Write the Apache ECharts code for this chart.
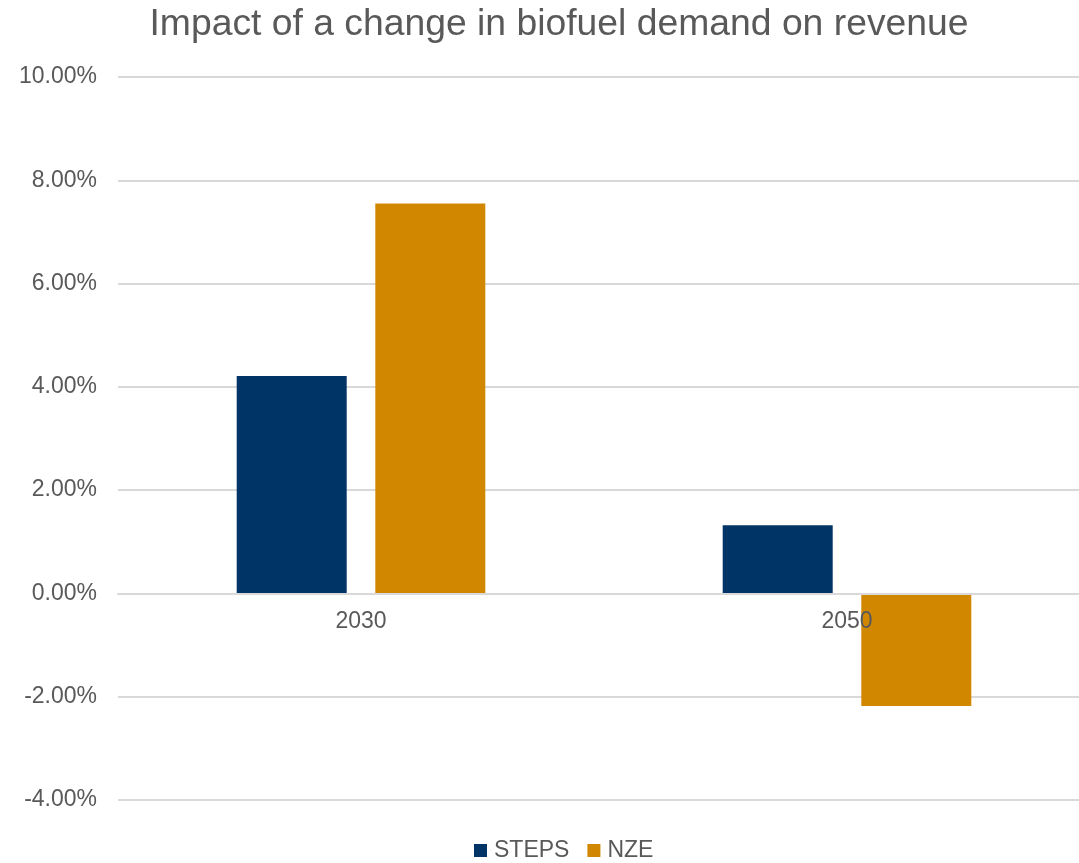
<!DOCTYPE html>
<html>
<head>
<meta charset="utf-8">
<script src="https://cdn.jsdelivr.net/npm/echarts@6/dist/echarts.min.js"></script>
<style>
  html, body { margin: 0; padding: 0; background: #fff; overflow: hidden; }
  #main { width: 1079px; height: 863px; }
</style>
</head>
<body>
<div id="main"></div>
<script>
var years = ['2030', '2050'];
var steps = [4.21, 1.32];
var nze = [7.55, -2.18];
var yTicks = { min: -4, max: 10, step: 2 };

var chart = echarts.init(document.getElementById('main'));
var font = 'Liberation Sans, Arial, sans-serif';

// plot box (runs past the right edge, like the original)
var gTop = 77, gBottom = 63, gLeft = 118, gWidth = 972;
var plotH = 863 - gTop - gBottom;
// lift the category axis up to the 0% line
var zeroOffset = -plotH * (0 - yTicks.min) / (yTicks.max - yTicks.min);

var option = {
  backgroundColor: '#ffffff',
  title: {
    text: 'Impact of a change in biofuel demand on revenue',
    left: 554,
    textAlign: 'center',
    top: 1,
    textStyle: { fontFamily: font, fontSize: 37.3, fontWeight: 'normal', color: '#595959' }
  },
  legend: {
    bottom: -4,
    left: 469,
    itemWidth: 13,
    itemHeight: 13,
    itemGap: 18,
    icon: 'rect',
    textStyle: { fontFamily: font, fontSize: 23, color: '#595959', padding: [0, 0, 0, 2] },
    data: ['STEPS', 'NZE']
  },
  grid: {
    left: gLeft, width: gWidth, top: gTop, bottom: gBottom,
    containLabel: false, outerBoundsMode: 'none'
  },
  xAxis: {
    type: 'category',
    data: years,
    z: 5,
    offset: zeroOffset,
    axisLine: { onZero: false, lineStyle: { color: '#d9d9d9', width: 2 } },
    axisTick: { show: false },
    axisLabel: { fontFamily: font, fontSize: 23, color: '#595959', margin: 17 }
  },
  yAxis: {
    type: 'value',
    min: yTicks.min,
    max: yTicks.max,
    interval: yTicks.step,
    axisLine: { show: false },
    axisTick: { show: false },
    splitLine: { lineStyle: { color: '#d9d9d9', width: 2 } },
    axisLabel: {
      fontFamily: font, fontSize: 23, color: '#595959', margin: 21,
      formatter: function (v) { return v.toFixed(2) + '%'; }
    }
  },
  series: [
    {
      name: 'STEPS', type: 'bar', data: steps, barWidth: 110, barGap: '26%',
      itemStyle: { color: '#003366' }
    },
    {
      name: 'NZE', type: 'bar', data: nze, barWidth: 110,
      itemStyle: { color: '#D18700' }
    }
  ]
};

chart.setOption(option);
</script>
</body>
</html>
